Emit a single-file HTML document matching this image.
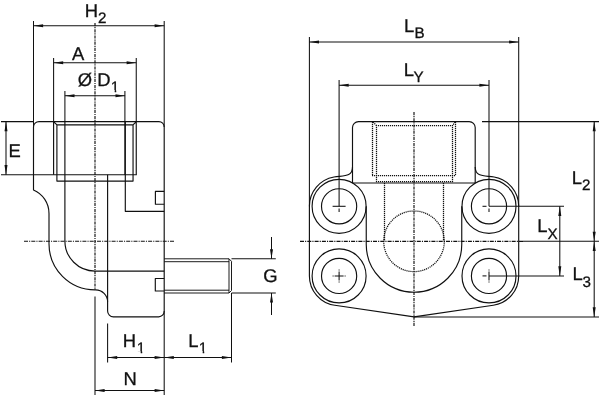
<!DOCTYPE html>
<html><head><meta charset="utf-8"><title>Flange elbow drawing</title>
<style>
html,body{margin:0;padding:0;background:#fff;}
body{width:600px;height:400px;overflow:hidden;}
svg{display:block;filter:grayscale(1);}
.b{fill:none;stroke:#101010;stroke-width:1.15;stroke-linecap:butt;stroke-linejoin:round;}
.s{fill:none;stroke:#101010;stroke-width:0.95;}
.t{fill:none;stroke:#101010;stroke-width:1.05;}
.c{fill:none;stroke:#101010;stroke-width:1.15;stroke-dasharray:4 1.1 1.1 1.1;}
.cv{fill:none;stroke:#101010;stroke-width:1.15;stroke-dasharray:3.2 0.9 1.2 0.9;}
.h{fill:none;stroke:#101010;stroke-width:1.25;stroke-dasharray:1.15 0.85;}
.a{fill:#101010;stroke:none;}
text{font-family:"Liberation Sans",sans-serif;fill:#111;stroke:#111;stroke-width:0.3px;text-rendering:geometricPrecision;}
</style></head><body>
<svg width="600" height="400" viewBox="0 0 600 400">
<rect width="600" height="400" fill="#fff"/>
<path class="b" d="M33.5 190 V127.1 A5.5 5.5 0 0 1 39 121.6 H158.9 A5.3 5.3 0 0 1 164.2 126.9 V311.3 A5.5 5.5 0 0 1 158.7 316.8 H113.4 A5.8 5.8 0 0 1 107.6 311.0 V301.8 A12 12 0 0 0 95.6 289.8 H95 A46 46 0 0 1 49 243.8 V213.5 A25.4 25.4 0 0 0 33.5 190 Z"/>
<path class="b" d="M53.6 121.6 V174.7 M136.25 121.6 V174.7 M53.6 121.6 L56.9 124.9 H133.05 L136.25 121.6 M56.9 124.9 V181.1 H133.05 V124.9"/>
<line class="t" x1="1" y1="174.7" x2="136.8" y2="174.7"/>
<path class="b" d="M64.9 121.6 V240.95 A30.1 30.1 0 0 0 95 271.05 H164.2"/>
<path class="b" d="M125.3 121.6 V211.3 H164.2"/>
<line class="b" x1="107.6" y1="174.7" x2="107.6" y2="301.8"/>
<path class="b" d="M164.2 191.4 H155.4 V204.2 H164.2"/>
<path class="b" d="M164.2 278.5 H155.3 V291 H164.2"/>
<path class="s" d="M164.2 258.8 H229 L231.5 261.3 V290.5 L229 293 H164.2"/>
<path class="s" d="M164.2 261.7 H229 M164.2 290.2 H229 M229 258.8 V293"/>
<line class="cv" x1="95" y1="23" x2="95" y2="290"/>
<line class="c" x1="24" y1="241.2" x2="174" y2="241.2"/>
<line class="t" x1="33.5" y1="21" x2="33.5" y2="127.1"/>
<line class="t" x1="164.2" y1="21" x2="164.2" y2="126.9"/>
<line class="t" x1="33.5" y1="25.7" x2="164.2" y2="25.7"/>
<polygon class="a" points="33.50,25.70 43.10,24.20 43.10,27.20"/>
<polygon class="a" points="164.20,25.70 154.60,27.20 154.60,24.20"/>
<line class="t" x1="53.6" y1="58" x2="53.6" y2="121.6"/>
<line class="t" x1="136.25" y1="58" x2="136.25" y2="121.6"/>
<line class="t" x1="53.6" y1="62.8" x2="136.25" y2="62.8"/>
<polygon class="a" points="53.60,62.80 63.20,61.30 63.20,64.30"/>
<polygon class="a" points="136.25,62.80 126.65,64.30 126.65,61.30"/>
<line class="t" x1="64.9" y1="91" x2="64.9" y2="121.6"/>
<line class="t" x1="124.9" y1="91" x2="124.9" y2="175"/>
<line class="t" x1="64.9" y1="95.8" x2="125.1" y2="95.8"/>
<polygon class="a" points="64.90,95.80 74.50,94.30 74.50,97.30"/>
<polygon class="a" points="125.10,95.80 115.50,97.30 115.50,94.30"/>
<line class="t" x1="1" y1="121.6" x2="33.5" y2="121.6"/>
<line class="t" x1="6" y1="121.6" x2="6" y2="174.7"/>
<polygon class="a" points="6.00,121.60 7.50,131.20 4.50,131.20"/>
<polygon class="a" points="6.00,174.70 4.50,165.10 7.50,165.10"/>
<line class="t" x1="231.5" y1="258.8" x2="275.8" y2="258.8"/>
<line class="t" x1="231.5" y1="293" x2="275.8" y2="293"/>
<line class="t" x1="271.5" y1="237" x2="271.5" y2="258.8"/>
<polygon class="a" points="271.50,258.80 270.00,249.20 273.00,249.20"/>
<line class="t" x1="271.5" y1="293" x2="271.5" y2="315"/>
<polygon class="a" points="271.50,293.00 273.00,302.60 270.00,302.60"/>
<line class="t" x1="231.5" y1="293" x2="231.5" y2="362.5"/>
<line class="t" x1="164.2" y1="311" x2="164.2" y2="395"/>
<line class="t" x1="107.6" y1="323.4" x2="107.6" y2="362.5"/>
<line class="t" x1="95" y1="296.6" x2="95" y2="395"/>
<line class="t" x1="107.6" y1="357.5" x2="164.2" y2="357.5"/>
<polygon class="a" points="107.60,357.50 117.20,356.00 117.20,359.00"/>
<polygon class="a" points="164.20,357.50 154.60,359.00 154.60,356.00"/>
<line class="t" x1="164.2" y1="357.5" x2="231.5" y2="357.5"/>
<polygon class="a" points="164.20,357.50 173.80,356.00 173.80,359.00"/>
<polygon class="a" points="231.50,357.50 221.90,359.00 221.90,356.00"/>
<line class="t" x1="95" y1="390.4" x2="164.2" y2="390.4"/>
<polygon class="a" points="95.00,390.40 104.60,388.90 104.60,391.90"/>
<polygon class="a" points="164.20,390.40 154.60,391.90 154.60,388.90"/>
<text x="84.8" y="16.7" font-size="18.4">H</text>
<text x="98.0" y="23.2" font-size="15.2">2</text>
<text x="72.0" y="59.7" font-size="18.4">A</text>
<text x="77.85" y="85.9" font-size="18.4">Ø D</text>
<clipPath id="k1"><polygon points="109.85,77.00 116.21,77.00 116.21,93.20 114.72,93.20 114.72,90.06 109.85,90.06"/></clipPath>
<text x="110.85" y="92.2" font-size="15.2" clip-path="url(#k1)">1</text>
<text x="8.4" y="156.5" font-size="18.4">E</text>
<text x="263.2" y="281.5" font-size="18.4">G</text>
<text x="122.8" y="347.2" font-size="18.4">H</text>
<clipPath id="k2"><polygon points="135.85,338.20 142.21,338.20 142.21,354.40 140.72,354.40 140.72,351.26 135.85,351.26"/></clipPath>
<text x="136.85" y="353.4" font-size="15.2" clip-path="url(#k2)">1</text>
<text x="188.3" y="347.2" font-size="18.4">L</text>
<clipPath id="k3"><polygon points="197.85,338.00 204.21,338.00 204.21,354.20 202.72,354.20 202.72,351.06 197.85,351.06"/></clipPath>
<text x="198.85" y="353.2" font-size="15.2" clip-path="url(#k3)">1</text>
<text x="123.4" y="385.1" font-size="18.4">N</text>
<path class="b" d="M352.5 167.0 C352.5 177.6 342.87 175.50 334.00 177.04 A29.7 29.7 0 0 0 309.40000000000003 206.3 V275.9 A29.7 29.7 0 0 0 334.79 305.29 L414.0 316.9 L493.30 305.29 A29.7 29.7 0 0 0 518.7 275.9 V206.3 A29.7 29.7 0 0 0 494.10 177.04 C485.23 175.50 475.2 177.6 475.2 167.0"/>
<path class="b" d="M352.5 183.0 V127.6 A6 6 0 0 1 358.5 121.6 H469.2 A6 6 0 0 1 475.2 127.6 V183.0"/>
<circle class="b" cx="339.1" cy="206.3" r="27.0"/>
<circle class="b" cx="339.1" cy="206.3" r="17.6"/>
<circle class="b" cx="339.1" cy="275.9" r="27.0"/>
<circle class="b" cx="339.1" cy="275.9" r="17.6"/>
<circle class="b" cx="489.0" cy="206.3" r="27.0"/>
<circle class="b" cx="489.0" cy="206.3" r="17.6"/>
<circle class="b" cx="489.0" cy="275.9" r="27.0"/>
<circle class="b" cx="489.0" cy="275.9" r="17.6"/>
<line class="b" x1="352.5" y1="183.0" x2="475.2" y2="183.0"/>
<path class="b" d="M366.25 206.3 V244.5 A47.75 47.75 0 0 0 461.75 244.5 V206.3"/>
<path class="h" d="M372.5 122 V175 M455.5 122 V175 M372 175.5 H456 M373 122 L376.5 125.5 M455 122 L452.5 125.5"/>
<path class="h" d="M376.5 125 V182 M452.5 125 V182 M376 125.5 H453 M376 181.5 H453"/>
<path class="h" d="M384.5 183 V241 M443.5 183 V241"/>
<circle class="h" cx="414.0" cy="241.3" r="30.3"/>
<line class="cv" x1="414.0" y1="112" x2="414.0" y2="326"/>
<line class="c" x1="300" y1="241.3" x2="523" y2="241.3"/>
<line class="t" x1="523" y1="241.3" x2="599" y2="241.3"/>
<line class="t" x1="332.6" y1="206.3" x2="345.6" y2="206.3"/>
<line class="t" x1="339.1" y1="208.60000000000002" x2="339.1" y2="212.10000000000002"/>
<line class="t" x1="482.5" y1="206.3" x2="486.5" y2="206.3"/>
<line class="t" x1="489.0" y1="208.60000000000002" x2="489.0" y2="212.10000000000002"/>
<line class="t" x1="332.6" y1="275.9" x2="345.6" y2="275.9" stroke-dasharray="1 1 9 1 1"/>
<line class="t" x1="339.1" y1="269.4" x2="339.1" y2="282.4" stroke-dasharray="1 1 9 1 1"/>
<line class="t" x1="482.5" y1="275.9" x2="486.5" y2="275.9"/>
<line class="t" x1="489.0" y1="269.4" x2="489.0" y2="282.4" stroke-dasharray="1 1 9 1 1"/>
<line class="t" x1="309.40000000000003" y1="37" x2="309.40000000000003" y2="206.3"/>
<line class="t" x1="518.7" y1="37" x2="518.7" y2="206.3"/>
<line class="t" x1="309.40000000000003" y1="42.0" x2="518.7" y2="42.0"/>
<polygon class="a" points="309.40,42.00 319.00,40.50 319.00,43.50"/>
<polygon class="a" points="518.70,42.00 509.10,43.50 509.10,40.50"/>
<line class="t" x1="339.1" y1="80" x2="339.1" y2="206.3"/>
<line class="t" x1="489.0" y1="80" x2="489.0" y2="206.3"/>
<line class="t" x1="339.1" y1="85.2" x2="489.0" y2="85.2"/>
<polygon class="a" points="339.10,85.20 348.70,83.70 348.70,86.70"/>
<polygon class="a" points="489.00,85.20 479.40,86.70 479.40,83.70"/>
<line class="t" x1="482" y1="121.6" x2="599" y2="121.6"/>
<line class="t" x1="489.0" y1="206.3" x2="564" y2="206.3"/>
<line class="t" x1="489.0" y1="275.9" x2="564" y2="275.9"/>
<line class="t" x1="559.8" y1="206.3" x2="559.8" y2="275.9"/>
<polygon class="a" points="559.80,206.30 561.30,215.90 558.30,215.90"/>
<polygon class="a" points="559.80,275.90 558.30,266.30 561.30,266.30"/>
<line class="t" x1="414.0" y1="316.9" x2="599" y2="316.9"/>
<line class="t" x1="594.2" y1="121.6" x2="594.2" y2="241.3"/>
<polygon class="a" points="594.20,121.60 595.70,131.20 592.70,131.20"/>
<polygon class="a" points="594.20,241.30 592.70,231.70 595.70,231.70"/>
<line class="t" x1="594.2" y1="241.3" x2="594.2" y2="316.9"/>
<polygon class="a" points="594.20,241.30 595.70,250.90 592.70,250.90"/>
<polygon class="a" points="594.20,316.90 592.70,307.30 595.70,307.30"/>
<text x="403.9" y="31.5" font-size="18.4">L</text>
<text x="414.5" y="37.6" font-size="15.2">B</text>
<text x="403.8" y="75.7" font-size="18.4">L</text>
<text x="413.6" y="81.5" font-size="15.2">Y</text>
<text x="571.8" y="183.7" font-size="18.4">L</text>
<text x="582.05" y="189.5" font-size="15.2">2</text>
<text x="537.3" y="231.7" font-size="18.4">L</text>
<text x="547.5" y="238.5" font-size="15.2">X</text>
<text x="572.4" y="279.9" font-size="18.4">L</text>
<text x="582.6" y="286.7" font-size="15.2">3</text>
</svg>
</body></html>
